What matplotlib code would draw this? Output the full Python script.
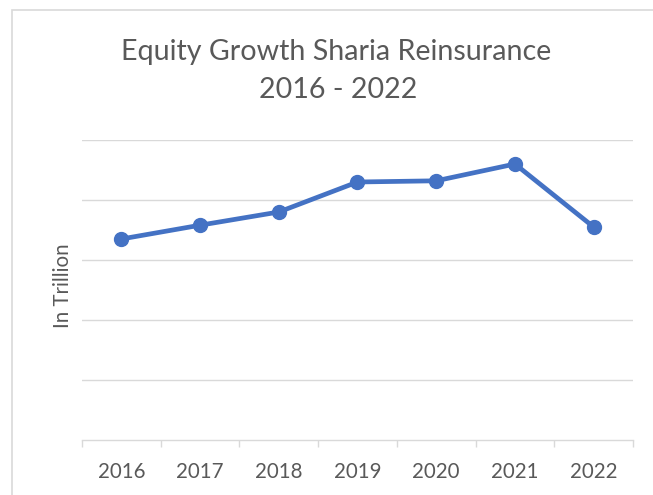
import matplotlib
matplotlib.use("Agg")
import matplotlib.pyplot as plt
from matplotlib.patches import Rectangle
import numpy as np

years = ["2016", "2017", "2018", "2019", "2020", "2021", "2022"]
equity = [3.35, 3.58, 3.80, 4.30, 4.32, 4.60, 3.55]
title_lines = ["Equity Growth Sharia Reinsurance", "2016 - 2022"]
ylabel = "In Trillion"

W, H = 653, 495
plt.rcParams['font.family'] = ['Lato', 'DejaVu Sans']
fig = plt.figure(figsize=(W / 100, H / 100), dpi=100)

def fx(px):
    return px / W

def fy(py):
    return 1 - py / H

# chart frame
fig.patches.append(Rectangle((fx(12), fy(520)), fx(700) - fx(12), fy(10) - fy(520),
                             transform=fig.transFigure, fill=False,
                             edgecolor="#d9d9d9", linewidth=1.2))

ax = fig.add_axes([fx(82), fy(440), fx(633) - fx(82), fy(140) - fy(440)])
x = np.arange(len(years))
ax.plot(x, equity, color="#4472C4", linewidth=3.4, marker="o", markersize=10,
        solid_capstyle="round", zorder=3)
ax.set_xlim(-0.5, len(years) - 0.5)
ax.set_ylim(0, 5)
for v in [1, 2, 3, 4, 5]:
    ax.axhline(v, color="#d9d9d9", linewidth=1.0, zorder=1)
for s in ["top", "right", "left"]:
    ax.spines[s].set_visible(False)
ax.spines["bottom"].set_color("#d9d9d9")
ax.spines["bottom"].set_linewidth(1.0)
ax.set_yticks([])
ax.set_xticks(np.arange(-0.5, len(years), 1.0), minor=False)
ax.set_xticklabels([])
ax.tick_params(axis="x", which="major", length=5, color="#d9d9d9", width=1.0)
ax.set_xticks(x, minor=True)
ax.set_xticklabels(years, minor=True)
ax.tick_params(axis="x", which="minor", length=0, pad=27, labelsize=14.8,
               labelcolor="#595959")
for lbl in ax.get_xticklabels(minor=True):
    lbl.set_va("baseline")

fig.text(fx(336), fy(60), title_lines[0], ha="center", va="baseline",
         fontsize=20.6, color="#595959")
fig.text(fx(338), fy(98), title_lines[1], ha="center", va="baseline",
         fontsize=20.6, color="#595959")
fig.text(fx(63), fy(286), ylabel, rotation=90, ha="center", va="center",
         fontsize=14.8, color="#595959")

fig.savefig("out.png", dpi=100)
